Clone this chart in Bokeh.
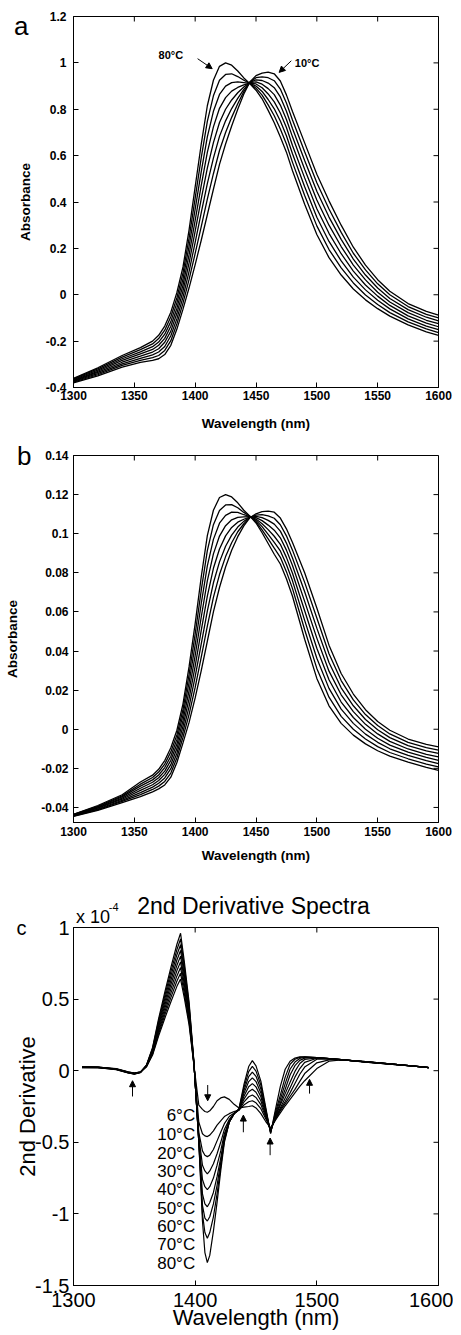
import math
from bokeh.plotting import figure
from bokeh.layouts import column
from bokeh.models import FixedTicker, LinearAxis, Label, Arrow, NormalHead, Range1d
from bokeh.embed import file_html
from bokeh.resources import INLINE

# ---------------- data ----------------
WL_AB = [1300, 1320, 1340, 1355, 1365, 1370, 1375, 1380, 1385, 1390, 1395, 1400, 1405, 1410,
         1415, 1420, 1425, 1430, 1435, 1440, 1445, 1450, 1455, 1460, 1465, 1470, 1475, 1480,
         1490, 1500, 1510, 1520, 1530, 1540, 1550, 1560, 1575, 1590, 1600]

A_10 = [-0.380, -0.350, -0.312, -0.292, -0.283, -0.276, -0.258, -0.218, -0.148, -0.062, 0.030, 0.130, 0.235, 0.345, 0.455, 0.562, 0.650, 0.728, 0.800, 0.866, 0.918, 0.945, 0.956, 0.960, 0.953, 0.922, 0.862, 0.790, 0.655, 0.520, 0.405, 0.300, 0.205, 0.128, 0.065, 0.015, -0.038, -0.072, -0.088]
A_20 = [-0.377, -0.345, -0.305, -0.283, -0.271, -0.262, -0.240, -0.198, -0.125, -0.036, 0.066, 0.178, 0.294, 0.412, 0.522, 0.622, 0.700, 0.765, 0.824, 0.876, 0.917, 0.936, 0.940, 0.936, 0.923, 0.887, 0.827, 0.754, 0.617, 0.483, 0.370, 0.269, 0.179, 0.107, 0.047, 0.000, -0.051, -0.085, -0.100]
A_30 = [-0.374, -0.340, -0.298, -0.274, -0.259, -0.247, -0.223, -0.177, -0.103, -0.010, 0.101, 0.226, 0.354, 0.479, 0.589, 0.683, 0.750, 0.803, 0.847, 0.886, 0.916, 0.927, 0.924, 0.913, 0.893, 0.853, 0.791, 0.717, 0.579, 0.446, 0.335, 0.239, 0.154, 0.085, 0.029, -0.016, -0.064, -0.097, -0.113]
A_40 = [-0.371, -0.335, -0.291, -0.265, -0.247, -0.233, -0.205, -0.157, -0.080, 0.016, 0.137, 0.274, 0.413, 0.546, 0.656, 0.743, 0.800, 0.840, 0.871, 0.896, 0.915, 0.918, 0.908, 0.889, 0.863, 0.818, 0.756, 0.681, 0.541, 0.409, 0.300, 0.208, 0.128, 0.064, 0.011, -0.031, -0.077, -0.110, -0.125]
A_50 = [-0.369, -0.330, -0.283, -0.255, -0.236, -0.218, -0.188, -0.136, -0.058, 0.042, 0.173, 0.321, 0.472, 0.614, 0.724, 0.804, 0.850, 0.878, 0.894, 0.905, 0.913, 0.909, 0.893, 0.866, 0.832, 0.784, 0.721, 0.644, 0.504, 0.371, 0.265, 0.177, 0.102, 0.042, -0.006, -0.046, -0.091, -0.122, -0.138]
A_60 = [-0.366, -0.325, -0.276, -0.246, -0.224, -0.204, -0.170, -0.116, -0.035, 0.068, 0.209, 0.369, 0.531, 0.681, 0.791, 0.864, 0.900, 0.915, 0.918, 0.915, 0.912, 0.900, 0.877, 0.842, 0.802, 0.749, 0.686, 0.608, 0.466, 0.334, 0.230, 0.146, 0.076, 0.021, -0.024, -0.061, -0.104, -0.135, -0.150]
A_70 = [-0.363, -0.320, -0.269, -0.237, -0.212, -0.189, -0.153, -0.095, -0.013, 0.094, 0.244, 0.417, 0.591, 0.748, 0.858, 0.925, 0.950, 0.953, 0.941, 0.925, 0.911, 0.891, 0.861, 0.819, 0.772, 0.715, 0.650, 0.571, 0.428, 0.297, 0.195, 0.116, 0.051, -0.001, -0.042, -0.077, -0.117, -0.147, -0.163]
A_80 = [-0.360, -0.315, -0.262, -0.228, -0.200, -0.175, -0.135, -0.075, 0.010, 0.120, 0.280, 0.465, 0.650, 0.815, 0.925, 0.985, 1.000, 0.990, 0.965, 0.935, 0.910, 0.882, 0.845, 0.795, 0.742, 0.680, 0.615, 0.535, 0.390, 0.260, 0.160, 0.085, 0.025, -0.022, -0.060, -0.092, -0.130, -0.160, -0.175]

B_10 = [-0.0445, -0.0415, -0.0375, -0.0345, -0.0320, -0.0305, -0.0285, -0.0245, -0.0170, -0.0070, 0.0035, 0.0160, 0.0300, 0.0450, 0.0600, 0.0725, 0.0830, 0.0915, 0.0985, 0.1040, 0.1082, 0.1102, 0.1113, 0.1115, 0.1110, 0.1080, 0.1025, 0.0955, 0.0800, 0.0620, 0.0430, 0.0285, 0.0180, 0.0100, 0.0040, -0.0005, -0.0050, -0.0077, -0.0090]
B_20 = [-0.0444, -0.0411, -0.0369, -0.0334, -0.0308, -0.0291, -0.0267, -0.0224, -0.0146, -0.0041, 0.0076, 0.0214, 0.0369, 0.0527, 0.0674, 0.0791, 0.0883, 0.0954, 0.1010, 0.1051, 0.1083, 0.1095, 0.1098, 0.1091, 0.1079, 0.1046, 0.0989, 0.0916, 0.0751, 0.0569, 0.0386, 0.0249, 0.0150, 0.0075, 0.0019, -0.0024, -0.0067, -0.0094, -0.0107]
B_30 = [-0.0442, -0.0408, -0.0364, -0.0324, -0.0296, -0.0276, -0.0249, -0.0202, -0.0123, -0.0013, 0.0116, 0.0269, 0.0437, 0.0604, 0.0749, 0.0856, 0.0936, 0.0993, 0.1034, 0.1063, 0.1084, 0.1089, 0.1082, 0.1068, 0.1049, 0.1013, 0.0952, 0.0876, 0.0703, 0.0517, 0.0341, 0.0212, 0.0120, 0.0050, -0.0003, -0.0043, -0.0084, -0.0111, -0.0124]
B_40 = [-0.0441, -0.0404, -0.0358, -0.0313, -0.0284, -0.0262, -0.0231, -0.0181, -0.0099, 0.0016, 0.0157, 0.0323, 0.0506, 0.0681, 0.0823, 0.0922, 0.0989, 0.1032, 0.1059, 0.1074, 0.1085, 0.1082, 0.1067, 0.1044, 0.1018, 0.0979, 0.0916, 0.0837, 0.0654, 0.0466, 0.0297, 0.0176, 0.0090, 0.0025, -0.0024, -0.0062, -0.0101, -0.0128, -0.0141]
B_50 = [-0.0439, -0.0401, -0.0352, -0.0302, -0.0271, -0.0248, -0.0214, -0.0159, -0.0076, 0.0044, 0.0198, 0.0377, 0.0574, 0.0759, 0.0897, 0.0988, 0.1041, 0.1071, 0.1084, 0.1086, 0.1087, 0.1075, 0.1051, 0.1021, 0.0987, 0.0946, 0.0879, 0.0798, 0.0606, 0.0414, 0.0253, 0.0139, 0.0060, 0.0000, -0.0046, -0.0081, -0.0117, -0.0144, -0.0159]
B_60 = [-0.0438, -0.0397, -0.0346, -0.0291, -0.0259, -0.0234, -0.0196, -0.0138, -0.0052, 0.0073, 0.0239, 0.0431, 0.0643, 0.0836, 0.0971, 0.1054, 0.1094, 0.1110, 0.1109, 0.1097, 0.1088, 0.1068, 0.1036, 0.0997, 0.0956, 0.0912, 0.0843, 0.0759, 0.0557, 0.0363, 0.0209, 0.0103, 0.0030, -0.0025, -0.0067, -0.0100, -0.0134, -0.0161, -0.0176]
B_70 = [-0.0436, -0.0394, -0.0341, -0.0281, -0.0247, -0.0219, -0.0178, -0.0116, -0.0029, 0.0101, 0.0279, 0.0486, 0.0711, 0.0913, 0.1046, 0.1119, 0.1147, 0.1149, 0.1133, 0.1109, 0.1089, 0.1062, 0.1020, 0.0974, 0.0926, 0.0879, 0.0806, 0.0719, 0.0509, 0.0311, 0.0164, 0.0066, 0.0000, -0.0050, -0.0089, -0.0119, -0.0151, -0.0178, -0.0193]
B_80 = [-0.0435, -0.0390, -0.0335, -0.0270, -0.0235, -0.0205, -0.0160, -0.0095, -0.0005, 0.0130, 0.0320, 0.0540, 0.0780, 0.0990, 0.1120, 0.1185, 0.1200, 0.1188, 0.1158, 0.1120, 0.1090, 0.1055, 0.1005, 0.0950, 0.0895, 0.0845, 0.0770, 0.0680, 0.0460, 0.0260, 0.0120, 0.0030, -0.0030, -0.0075, -0.0110, -0.0138, -0.0168, -0.0195, -0.0210]

WL_C = [1307, 1320, 1335, 1345, 1350, 1355, 1360, 1365, 1370, 1375, 1380, 1385, 1388, 1391, 1395,
        1399, 1403, 1406, 1408, 1410, 1412, 1415, 1418, 1421, 1424, 1428, 1432, 1436, 1440, 1444,
        1447, 1450, 1454, 1458, 1462, 1466, 1470, 1474, 1478, 1482, 1486, 1490, 1500, 1510, 1520,
        1540, 1560, 1580, 1592]

# second derivative, in units of 1e-4
C_6 = [0.028, 0.026, 0.014, -0.008, -0.016, -0.008, 0.028, 0.109, 0.243, 0.365, 0.480, 0.589, 0.640, 0.512, 0.320, 0.038, -0.24, -0.27, -0.285, -0.29, -0.28, -0.25, -0.21, -0.19, -0.183, -0.20, -0.235, -0.26, -0.255, -0.25, -0.245, -0.26, -0.30, -0.355, -0.40, -0.345, -0.295, -0.245, -0.20, -0.155, -0.11, -0.07, 0.015, 0.066, 0.075, 0.064, 0.048, 0.033, 0.023]
C_10 = [0.027, 0.025, 0.013, -0.009, -0.017, -0.009, 0.029, 0.116, 0.258, 0.388, 0.510, 0.626, 0.680, 0.544, 0.340, 0.041, -0.36, -0.44, -0.455, -0.46, -0.45, -0.42, -0.38, -0.35, -0.32, -0.30, -0.285, -0.275, -0.24, -0.217, -0.21, -0.224, -0.265, -0.335, -0.405, -0.34, -0.28, -0.23, -0.18, -0.13, -0.075, -0.02, 0.055, 0.076, 0.076, 0.063, 0.048, 0.032, 0.022]
C_20 = [0.026, 0.025, 0.012, -0.010, -0.018, -0.010, 0.030, 0.122, 0.274, 0.410, 0.540, 0.662, 0.720, 0.576, 0.360, 0.043, -0.43, -0.56, -0.59, -0.60, -0.59, -0.55, -0.49, -0.43, -0.37, -0.32, -0.295, -0.275, -0.22, -0.182, -0.17, -0.187, -0.237, -0.324, -0.41, -0.335, -0.27, -0.215, -0.155, -0.09, -0.025, 0.025, 0.08, 0.082, 0.076, 0.063, 0.047, 0.032, 0.022]
C_30 = [0.025, 0.024, 0.012, -0.011, -0.019, -0.010, 0.032, 0.129, 0.289, 0.433, 0.570, 0.699, 0.760, 0.608, 0.380, 0.046, -0.46, -0.66, -0.70, -0.72, -0.70, -0.65, -0.58, -0.50, -0.41, -0.34, -0.30, -0.275, -0.20, -0.147, -0.13, -0.15, -0.21, -0.312, -0.415, -0.33, -0.26, -0.19, -0.12, -0.045, 0.015, 0.058, 0.087, 0.084, 0.077, 0.062, 0.047, 0.032, 0.022]
C_40 = [0.025, 0.024, 0.011, -0.012, -0.020, -0.011, 0.033, 0.136, 0.304, 0.456, 0.600, 0.736, 0.800, 0.640, 0.400, 0.048, -0.48, -0.76, -0.81, -0.83, -0.81, -0.75, -0.66, -0.56, -0.44, -0.35, -0.30, -0.272, -0.18, -0.112, -0.09, -0.113, -0.182, -0.301, -0.42, -0.325, -0.24, -0.16, -0.08, -0.005, 0.05, 0.078, 0.09, 0.084, 0.077, 0.062, 0.047, 0.032, 0.022]
C_50 = [0.024, 0.023, 0.010, -0.013, -0.021, -0.011, 0.035, 0.143, 0.319, 0.479, 0.630, 0.773, 0.840, 0.672, 0.420, 0.050, -0.49, -0.86, -0.93, -0.95, -0.92, -0.85, -0.74, -0.61, -0.46, -0.355, -0.30, -0.27, -0.16, -0.076, -0.05, -0.076, -0.155, -0.29, -0.425, -0.315, -0.225, -0.13, -0.03, 0.035, 0.072, 0.088, 0.091, 0.085, 0.077, 0.061, 0.047, 0.032, 0.022]
C_60 = [0.023, 0.022, 0.010, -0.014, -0.022, -0.012, 0.036, 0.150, 0.334, 0.502, 0.660, 0.810, 0.880, 0.704, 0.440, 0.053, -0.50, -0.94, -1.03, -1.05, -1.02, -0.93, -0.80, -0.64, -0.48, -0.36, -0.30, -0.27, -0.14, -0.041, -0.01, -0.039, -0.128, -0.279, -0.43, -0.305, -0.20, -0.09, 0.01, 0.06, 0.085, 0.094, 0.092, 0.085, 0.077, 0.061, 0.046, 0.031, 0.021]
C_70 = [0.022, 0.022, 0.009, -0.015, -0.023, -0.012, 0.038, 0.156, 0.350, 0.524, 0.690, 0.846, 0.920, 0.736, 0.460, 0.055, -0.50, -1.00, -1.13, -1.17, -1.13, -1.02, -0.86, -0.67, -0.49, -0.36, -0.30, -0.268, -0.12, -0.006, 0.03, -0.003, -0.10, -0.268, -0.435, -0.29, -0.17, -0.045, 0.045, 0.08, 0.093, 0.096, 0.092, 0.085, 0.077, 0.060, 0.046, 0.031, 0.021]
C_80 = [0.021, 0.021, 0.008, -0.016, -0.024, -0.013, 0.040, 0.163, 0.365, 0.547, 0.720, 0.883, 0.960, 0.768, 0.480, 0.058, -0.50, -1.05, -1.27, -1.34, -1.29, -1.12, -0.92, -0.70, -0.50, -0.36, -0.30, -0.265, -0.10, 0.029, 0.07, 0.034, -0.073, -0.256, -0.44, -0.27, -0.11, 0.01, 0.066, 0.088, 0.096, 0.097, 0.092, 0.085, 0.077, 0.060, 0.046, 0.031, 0.021]

TEMPS_C = ["6°C", "10°C", "20°C", "30°C", "40°C", "50°C", "60°C", "70°C", "80°C"]

XT_AB = [1300, 1350, 1400, 1450, 1500, 1550, 1600]
XL_AB = ["1300", "1350", "1400", "1450", "1500", "1550", "1600"]
YT_A = [-0.4, -0.2, 0.0, 0.2, 0.4, 0.6, 0.8, 1.0, 1.2]
YL_A = ["-0.4", "-0.2", "0", "0.2", "0.4", "0.6", "0.8", "1", "1.2"]
YT_B = [-0.04, -0.02, 0.0, 0.02, 0.04, 0.06, 0.08, 0.1, 0.12, 0.14]
YL_B = ["-0.04", "-0.02", "0", "0.02", "0.04", "0.06", "0.08", "0.1", "0.12", "0.14"]
XT_C = [1300, 1400, 1500, 1600]
XL_C = ["1300", "1400", "1500", "1600"]
YT_C = [-1.5, -1.0, -0.5, 0.0, 0.5, 1.0]
YL_C = ["-1.5", "-1", "-0.5", "0", "0.5", "1"]

FONT = "Liberation Sans"


def make_fig(w, h, xr, yr, bl, br, bt, bb):
    p = figure(width=w, height=h, x_range=Range1d(*xr), y_range=Range1d(*yr),
               output_backend="svg", toolbar_location=None,
               min_border_left=bl, min_border_right=br, min_border_top=bt, min_border_bottom=bb)
    p.xgrid.visible = False
    p.ygrid.visible = False
    p.outline_line_color = "black"
    p.outline_line_width = 1
    p.background_fill_color = "white"
    p.border_fill_color = "white"
    return p


def style_axes(p, xt, xl, yt, yl, tick_fs, tick_style, xstd, ystd,
               xlabel, ylabel, lab_fs, lab_style, xlstd, ylstd, tick_len):
    xa = p.below[0]
    ya = p.left[0]
    for a, t, l, std in ((xa, xt, xl, xstd), (ya, yt, yl, ystd)):
        a.ticker = FixedTicker(ticks=t)
        a.major_label_overrides = dict(zip(t, l))
        a.major_tick_in = tick_len
        a.major_tick_out = 0
        a.minor_tick_line_color = None
        a.major_label_text_font = FONT
        a.major_label_text_font_size = tick_fs
        a.major_label_text_font_style = tick_style
        a.major_label_text_color = "black"
        a.major_label_standoff = std
        a.axis_line_color = "black"
        a.major_tick_line_color = "black"
        a.axis_label_text_font = FONT
        a.axis_label_text_font_size = lab_fs
        a.axis_label_text_font_style = lab_style
        a.axis_label_text_color = "black"
    xa.axis_label = xlabel
    ya.axis_label = ylabel
    xa.axis_label_standoff = xlstd
    ya.axis_label_standoff = ylstd
    # inward ticks on the top and right edges of the box (no labels)
    ymax = p.y_range.end
    xmax = p.x_range.end
    p.ray(x=xt, y=[ymax] * len(xt), length=tick_len, length_units="screen",
          angle=-math.pi / 2, line_color="black", line_width=1)
    p.ray(x=[xmax] * len(yt), y=yt, length=tick_len, length_units="screen",
          angle=math.pi, line_color="black", line_width=1)


def side_text(p, side, pos, text, fs, standoff, style="normal"):
    # a text placed in the border through a bare axis carrying a single labelled tick
    ax = LinearAxis(ticker=FixedTicker(ticks=[pos]), major_label_overrides={pos: text},
                    axis_line_color=None, major_tick_line_color=None, minor_tick_line_color=None,
                    major_tick_in=0, major_tick_out=0, minor_tick_in=0, minor_tick_out=0,
                    major_label_text_font=FONT, major_label_text_font_size=fs,
                    major_label_text_font_style=style, major_label_text_color="black",
                    major_label_standoff=standoff)
    p.add_layout(ax, side)


def lbl(p, x, y, text, fs, style="normal", align="center"):
    p.add_layout(Label(x=x, y=y, text=text, text_font=FONT, text_font_size=fs,
                       text_font_style=style, text_align=align, text_baseline="middle",
                       text_color="black"))


def arrow(p, x0, y0, x1, y1, size=6):
    p.add_layout(Arrow(end=NormalHead(size=size, fill_color="black", line_color="black", line_width=1),
                       x_start=x0, y_start=y0, x_end=x1, y_end=y1,
                       line_color="black", line_width=1))


# ---------------- panel a ----------------
pa = make_fig(453, 436, (1300, 1600), (-0.4, 1.2), 71, 10, 16, 49)
for ys in (A_10, A_20, A_30, A_40, A_50, A_60, A_70, A_80):
    pa.line(WL_AB, ys, line_color="black", line_width=1.3)
style_axes(pa, XT_AB, XL_AB, YT_A, YL_A, "12px", "bold", 3, 7,
           "Wavelength (nm)", "Absorbance", "13.5px", "bold", 13, 10, 5)
side_text(pa, "left", 1.16, "a", "26px", -14)
lbl(pa, 1380, 1.035, "80°C", "11px", "bold")
lbl(pa, 1492, 1.0, "10°C", "11px", "bold")
arrow(pa, 1402, 1.018, 1414, 0.975)
arrow(pa, 1479, 1.009, 1469, 0.959)

# ---------------- panel b ----------------
pb = make_fig(453, 440, (1300, 1600), (-0.0477, 0.14), 71, 11, 19, 54)
for ys in (B_10, B_20, B_30, B_40, B_50, B_60, B_70, B_80):
    pb.line(WL_AB, ys, line_color="black", line_width=1.3)
style_axes(pb, XT_AB, XL_AB, YT_B, YL_B, "12px", "bold", 4, 5,
           "Wavelength (nm)", "Absorbance", "13.5px", "bold", 9, 18, 5)
side_text(pb, "left", 0.1395, "b", "26px", -29)

# ---------------- panel c ----------------
pc = make_fig(453, 458, (1300, 1600), (-1.5, 1.0), 73, 15, 51, 49)
for ys in (C_6, C_10, C_20, C_30, C_40, C_50, C_60, C_70, C_80):
    pc.line(WL_C, ys, line_color="black", line_width=1.2)
style_axes(pc, XT_C, XL_C, YT_C, YL_C, "20px", "normal", 7, 4,
           "Wavelength (nm)", "2nd Derivative", "22px", "normal", -5, -8, 5)
side_text(pc, "left", 1.0, "c", "20px", -14)
side_text(pc, "above", 1316, "x 10", "18px", 1)
side_text(pc, "above", 1448, "2nd Derivative Spectra", "23px", -15)
side_text(pc, "above", 1333, "-4", "11px", -21)

LABEL_Y = [-0.31, -0.443, -0.577, -0.705, -0.832, -0.96, -1.088, -1.215, -1.347]
for t, y in zip(TEMPS_C, LABEL_Y):
    lbl(pc, 1400, y, t, "17px", align="right")

arrow(pc, 1348.5, -0.18, 1348.5, -0.07, 6)
arrow(pc, 1410.3, -0.10, 1410.3, -0.21, 6)
arrow(pc, 1439.6, -0.43, 1439.6, -0.31, 6)
arrow(pc, 1461.6, -0.59, 1461.6, -0.47, 6)
arrow(pc, 1494.0, -0.16, 1494.0, -0.06, 6)

layout = column(pa, pb, pc)
open("out.html", "w").write(file_html(layout, INLINE))
